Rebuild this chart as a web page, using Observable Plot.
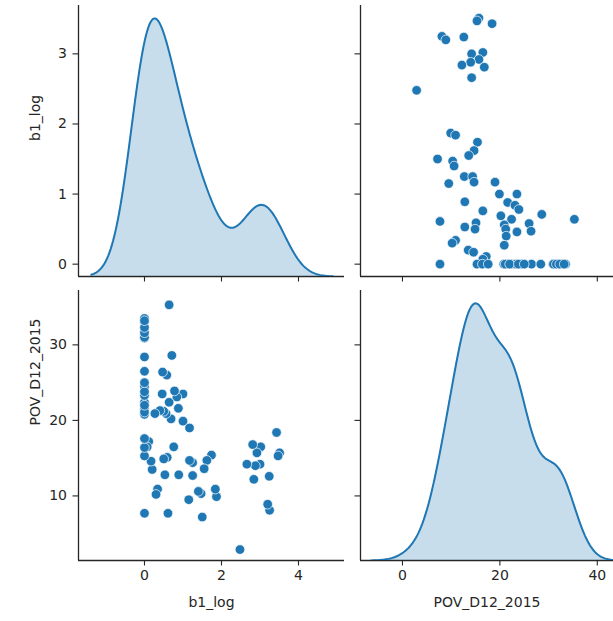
<!DOCTYPE html>
<html><head><meta charset="utf-8">
<script src="https://cdn.jsdelivr.net/npm/d3@7"></script>
<script src="https://cdn.jsdelivr.net/npm/@observablehq/plot@0.6"></script>
<style>
html,body{margin:0;padding:0;overflow:hidden;background:#fff;width:613px;height:621px;}
#chart{position:relative;width:613px;height:621px;overflow:hidden;background:#fff;}
#chart svg{position:absolute;left:0;top:0;}
</style></head><body><div id="chart"></div>
<script>
// ---- data ----
const variables = ["b1_log", "POV_D12_2015"];
const b1_log = [
  3.51, 3.47, 3.43, 3.25, 3.20, 3.24, 3.00, 3.02, 2.92, 2.88, 2.84, 2.81, 2.66, 2.48,
  1.87, 1.84, 1.74, 1.62, 1.55, 1.50, 1.47, 1.40, 1.25, 1.25, 1.17, 1.15, 1.17, 1.00, 1.00,
  0.88, 0.89, 0.84, 0.78, 0.76, 0.71, 0.69, 0.61, 0.64, 0.64, 0.59, 0.58, 0.56, 0.53, 0.50,
  0.50, 0.46, 0.47, 0.40, 0.34, 0.30, 0.27, 0.20, 0.17, 0.11, 0.07,
  0, 0, 0, 0, 0, 0, 0, 0, 0, 0, 0, 0, 0, 0, 0, 0,
  0, 0, 0, 0, 0, 0, 0, 0
];
const POV_D12_2015 = [
  15.7, 15.3, 18.4, 8.1, 8.9, 12.6, 14.2, 16.5, 15.7, 14.0, 12.2, 16.8, 14.2, 2.9,
  9.9, 10.9, 15.4, 14.7, 13.6, 7.2, 10.3, 10.6, 12.7, 14.4, 14.7, 9.5, 19.0, 19.9, 23.5,
  21.6, 12.8, 23.1, 23.9, 16.5, 28.6, 20.2, 7.7, 22.4, 35.3, 15.1, 26.0, 20.9, 12.8, 14.9,
  21.2, 23.5, 26.4, 21.3, 10.9, 10.2, 20.9, 13.5, 14.6, 17.2, 16.5,
  7.7, 15.3, 16.4, 17.6, 20.8, 21.5, 22.4, 23.3, 24.5, 26.5, 28.4, 30.9, 31.3, 31.8, 33.0, 33.5,
  21.1, 22.0, 23.8, 25.0, 31.0, 31.6, 32.3, 33.2
];
const b1TickValues = [0, 1, 2, 3];
const povTickValues = [10, 20, 30];
const b1XTickValues = [0, 2, 4];
const povXTickValues = [0, 20, 40];

// ---- layout ----
const W = 613, H = 621;
const cols = [[78, 344], [360, 613]];
const rowsPx = [[5, 276], [290, 560]];
const domains = {
  b1_log: {x: [-1.714, 5.195], y: [-0.176, 3.69]},
  POV_D12_2015: {x: [-8.62, 43.33], y: [1.45, 37.2]}
};
const ticks = {
  b1_log: {x: b1XTickValues, y: b1TickValues},
  POV_D12_2015: {x: povXTickValues, y: povTickValues}
};
const blue = "#1f77b4";
const ink = "#262626";
const fs = 14;

const table = b1_log.map((b, i) => ({b1_log: b, POV_D12_2015: POV_D12_2015[i]}));

function kde(values, gridsize = 200, cut = 3) {
  const n = values.length;
  const bw = d3.deviation(values) * Math.pow(n, -1 / 5);
  const lo = d3.min(values) - cut * bw, hi = d3.max(values) + cut * bw;
  const norm = bw * Math.sqrt(2 * Math.PI);
  return d3.range(gridsize).map(i => {
    const x = lo + (hi - lo) * i / (gridsize - 1);
    return {x, density: d3.mean(values, v => Math.exp(-0.5 * ((x - v) / bw) ** 2)) / norm};
  });
}

function frame(c, r) {
  return {
    width: W, height: H,
    marginLeft: cols[c][0], marginRight: W - cols[c][1],
    marginTop: rowsPx[r][0], marginBottom: H - rowsPx[r][1],
    style: {background: "transparent", fontFamily: "DejaVu Sans", fontSize: fs + "px", color: ink, overflow: "hidden"}
  };
}

const root = document.getElementById("chart");

for (let r = 0; r < 2; r++) {
  for (let c = 0; c < 2; c++) {
    const xv = variables[c], yv = variables[r];
    const xd = domains[xv].x, yd = domains[yv].y;
    const marks = [
      Plot.axisY({ticks: ticks[yv].y, tickSize: 5.5, tickPadding: 6, label: null, fontSize: fs,
        tickFormat: c === 0 ? d => String(d) : () => "", strokeWidth: 1.1}),
      Plot.axisX({ticks: ticks[xv].x, tickSize: 5.5, tickPadding: 4, label: null, fontSize: fs,
        tickFormat: r === 1 ? d => String(d) : () => "", strokeWidth: 1.1}),
      Plot.ruleX([xd[0]], {stroke: ink, strokeWidth: 1.3}),
      Plot.ruleY([yd[0]], {stroke: ink, strokeWidth: 1.3})
    ];
    if (c === 0) {
      marks.push(Plot.text([yv], {text: d => d, frameAnchor: "left", dx: -43, rotate: -90, fontSize: fs, fill: ink}));
    }
    if (r === 1) {
      marks.push(Plot.text([xv], {text: d => d, frameAnchor: "bottom", dy: 46, fontSize: fs, fill: ink}));
    }
    if (r !== c) {
      marks.push(Plot.dot(table, {x: xv, y: yv, r: 4.8, fill: blue, stroke: "white", strokeWidth: 0.7}));
    }
    const axesPlot = Plot.plot({
      ...frame(c, r),
      x: {domain: xd}, y: {domain: yd},
      marks
    });
    root.appendChild(axesPlot);

    if (r === c) {
      const dens = kde(table.map(d => d[xv]));
      const maxD = d3.max(dens, d => d.density);
      const kdePlot = Plot.plot({
        ...frame(c, r),
        x: {domain: xd, axis: null},
        y: {domain: [0, maxD * 1.05], axis: null},
        marks: [
          Plot.areaY(dens, {x: "x", y: "density", fill: blue, fillOpacity: 0.25, clip: true}),
          Plot.lineY(dens, {x: "x", y: "density", stroke: blue, strokeWidth: 2, clip: true})
        ]
      });
      root.appendChild(kdePlot);
    }
  }
}
</script></body></html>
